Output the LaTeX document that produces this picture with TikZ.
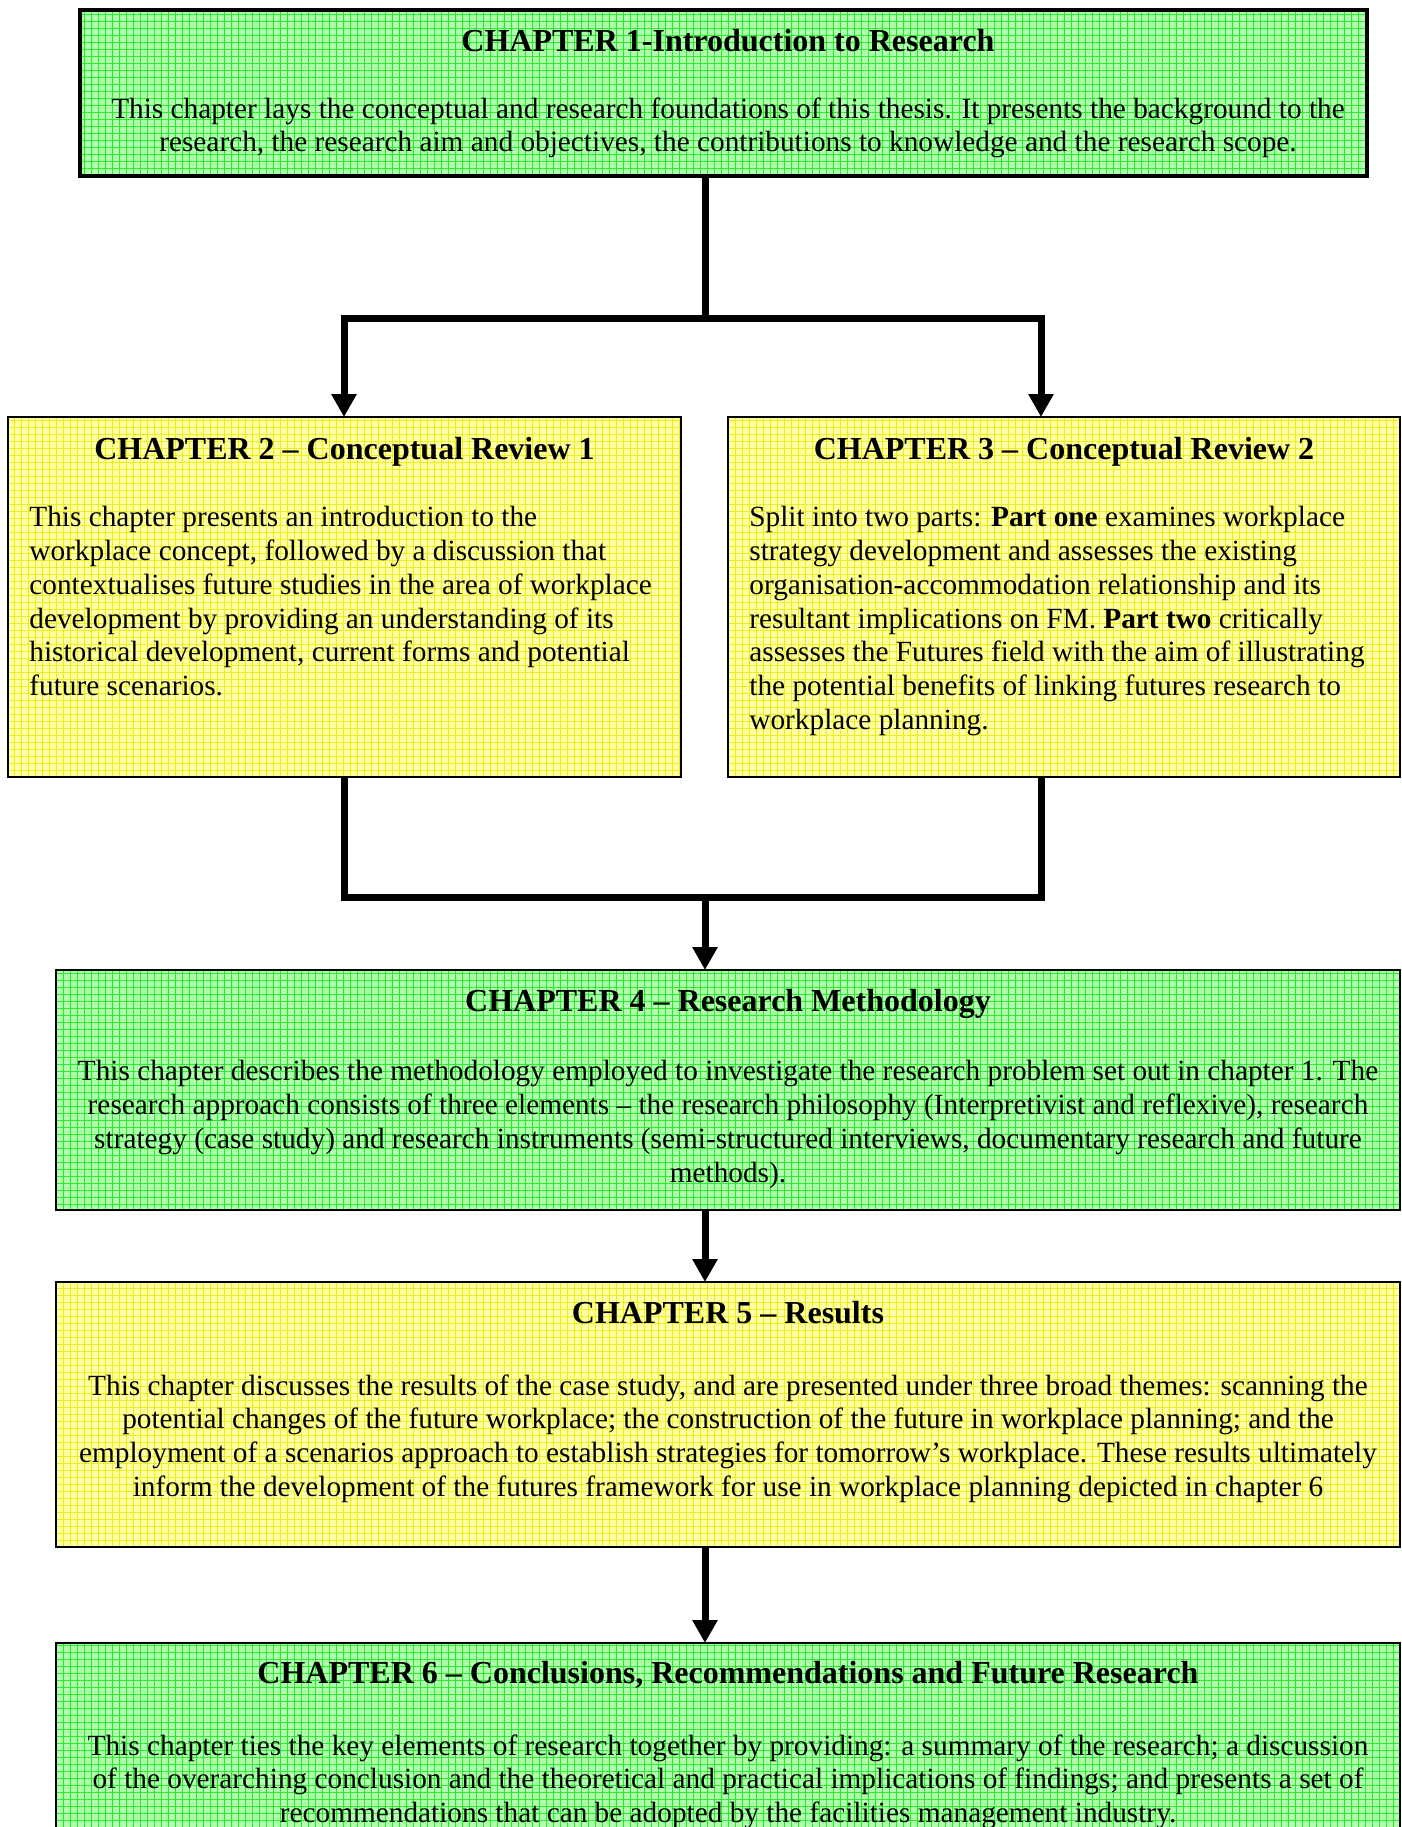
\documentclass[tikz,border=0pt]{standalone}
\usepackage{fontspec}
\setmainfont{Liberation Serif}
\usetikzlibrary{arrows.meta,patterns.meta,positioning}

\definecolor{gfill}{RGB}{175,255,175}
\definecolor{ggrid}{RGB}{40,235,40}
\definecolor{yfill}{RGB}{255,255,165}
\definecolor{ygrid}{RGB}{238,238,20}

\newcommand{\bodyfont}{\fontsize{14.65}{16.9}\selectfont}
\newcommand{\headfont}{\fontsize{16}{17}\selectfont\bfseries}

\tikzset{
  chbox/.style={draw, line width=1pt, inner sep=0pt, outer sep=0pt},
  greenbox/.style={chbox, preaction={fill=gfill},
    pattern={Hatch[angle=0,distance=3.5pt,line width=.45pt]}, pattern color=ggrid},
  yellowbox/.style={chbox, preaction={fill=yfill},
    pattern={Hatch[angle=0,distance=3.5pt,line width=.45pt]}, pattern color=ygrid},
  head/.style={anchor=base, inner sep=0pt, font=\headfont},
  body/.style={anchor=north, inner sep=0pt, font=\bodyfont, align=center},
  bodyl/.style={body, anchor=north west, align=left},
  link/.style={line width=3.5pt, line join=miter},
  arr/.style={link, -{Triangle[width=12pt,length=11.5pt]}}
}

\begin{document}
\begin{tikzpicture}[x=1pt, y=-1pt]
    \useasboundingbox (0,0) rectangle (701,913.5);

      %%ch1
    \node[greenbox, line width=2pt, minimum width=643.5pt, minimum height=83pt] (ch1) at (361.75,46.5) {};
      \node[head] (ch1h) at ([xshift=2.25pt,yshift=-20.5pt]ch1.north) {CHAPTER 1-Introduction to Research};
      \node[body] (ch1b) at ([xshift=2.25pt,yshift=-43.5pt]ch1.north) {This chapter lays the conceptual and research foundations of this thesis. It presents the background to the\\
        research, the research aim and objectives, the contributions to knowledge and the research scope.};

      %%ch2 and ch3
    \node[yellowbox, minimum width=336.5pt, minimum height=180pt] (ch2) at (172.25,298.5) {};
      \node[head] (ch2h) at ([yshift=-21pt]ch2.north) {CHAPTER 2 -- Conceptual Review 1};
      \node[bodyl] (ch2b) at ([xshift=10.5pt,yshift=-44.5pt]ch2.north west) {This chapter presents an introduction to the\\
        workplace concept, followed by a discussion that\\
        contextualises future studies in the area of workplace\\
        development by providing an understanding of its\\
        historical development, current forms and potential\\
        future scenarios.};

    \node[yellowbox, minimum width=336pt, minimum height=180pt] (ch3) at (532,298.5) {};
      \node[head] (ch3h) at ([yshift=-21pt]ch3.north) {CHAPTER 3 -- Conceptual Review 2};
      \node[bodyl] (ch3b) at ([xshift=10.5pt,yshift=-44.5pt]ch3.north west) {Split into two parts: \textbf{Part one} examines workplace\\
        strategy development and assesses the existing\\
        organisation-accommodation relationship and its\\
        resultant implications on FM. \textbf{Part two} critically\\
        assesses the Futures field with the aim of illustrating\\
        the potential benefits of linking futures research to\\
        workplace planning.};

      %%ch4
    \node[greenbox, minimum width=672pt, minimum height=120pt] (ch4) at (364,545) {};
      \node[head] (ch4h) at ([yshift=-20.5pt]ch4.north) {CHAPTER 4 -- Research Methodology};
      \node[body] (ch4b) at ([yshift=-45pt]ch4.north) {This chapter describes the methodology employed to investigate the research problem set out in chapter 1. The\\
        research approach consists of three elements -- the research philosophy (Interpretivist and reflexive), research\\
        strategy (case study) and research instruments (semi-structured interviews, documentary research and future\\
        methods).};

      %%ch5
    \node[yellowbox, minimum width=672pt, minimum height=132.5pt] (ch5) at (364,707.25) {};
      \node[head] (ch5h) at ([yshift=-20.5pt]ch5.north) {CHAPTER 5 -- Results};
      \node[body] (ch5b) at ([yshift=-46pt]ch5.north) {This chapter discusses the results of the case study, and are presented under three broad themes: scanning the\\
        potential changes of the future workplace; the construction of the future in workplace planning; and the\\
        employment of a scenarios approach to establish strategies for tomorrow’s workplace. These results ultimately\\
        inform the development of the futures framework for use in workplace planning depicted in chapter 6};

      %%ch6
    \node[greenbox, minimum width=672pt, minimum height=104pt] (ch6) at (364,873.5) {};
      \node[head] (ch6h) at ([yshift=-20pt]ch6.north) {CHAPTER 6 -- Conclusions, Recommendations and Future Research};
      \node[body] (ch6b) at ([yshift=-45.5pt]ch6.north) {This chapter ties the key elements of research together by providing: a summary of the research; a discussion\\
        of the overarching conclusion and the theoretical and practical implications of findings; and presents a set of\\
        recommendations that can be adopted by the facilities management industry.};

      %%links
    \coordinate (split) at (352.5,159);
    \coordinate (join) at (352.5,448.5);
    \coordinate (lft) at (172,159);
    \coordinate (rgt) at (520.5,159);

    \draw[link] (ch1.south -| split) to (split);
    \draw[arr] (split) -| (ch2.north -| lft);
    \draw[arr] (split) -| (ch3.north -| rgt);

    \draw[link] (ch2.south -| lft) |- (join);
    \draw[link] (ch3.south -| rgt) |- (join);
    \draw[arr] (join) to (ch4.north -| join);
    \draw[arr] (ch4.south -| join) to (ch5.north -| join);
    \draw[arr] (ch5.south -| join) to (ch6.north -| join);

\end{tikzpicture}
\end{document}
